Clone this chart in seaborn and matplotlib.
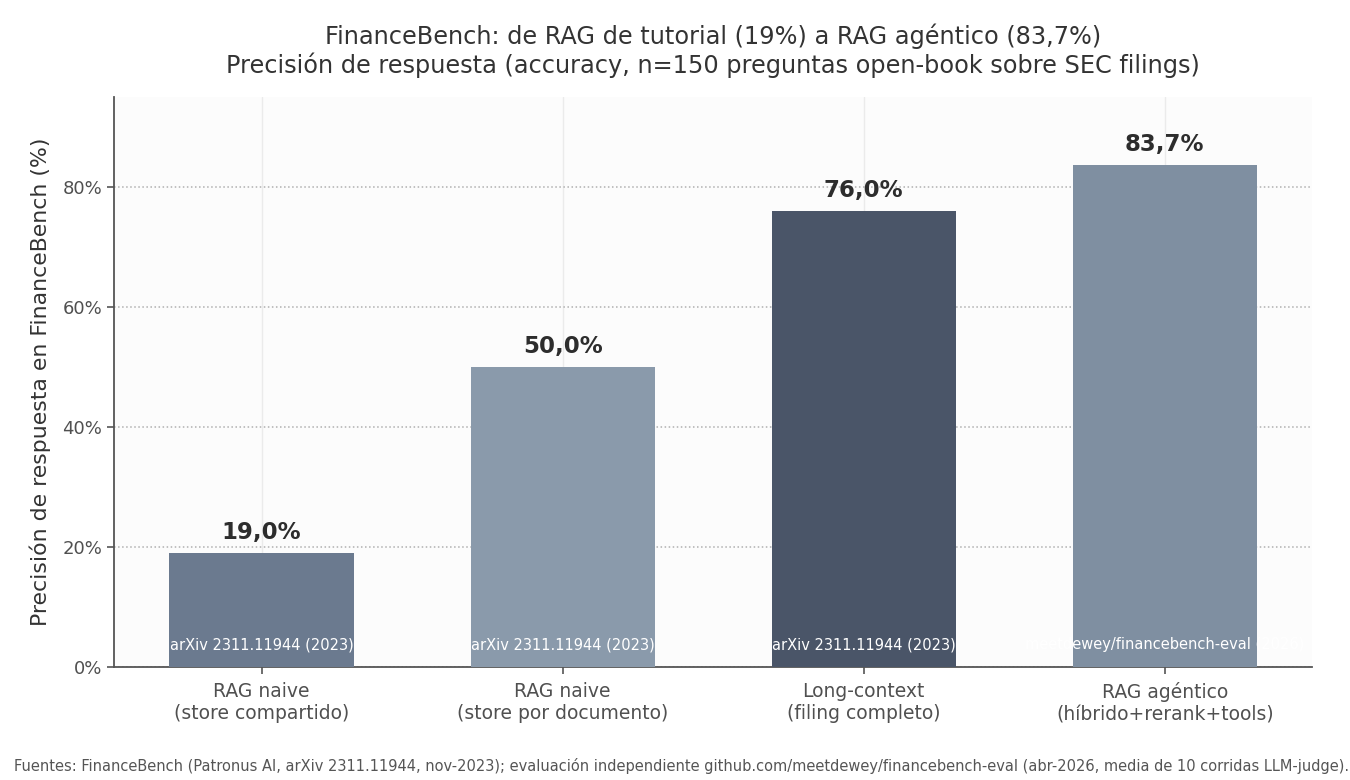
import matplotlib
matplotlib.use("Agg")
import matplotlib.pyplot as plt
import seaborn as sns
import pandas as pd

categories = ["RAG naive\n(store compartido)", "RAG naive\n(store por documento)",
              "Long-context\n(filing completo)", "RAG agéntico\n(híbrido+rerank+tools)"]
values = [19.0, 50.0, 76.0, 83.7]
value_labels = ["19,0%", "50,0%", "76,0%", "83,7%"]
sources = ["arXiv 2311.11944 (2023)", "arXiv 2311.11944 (2023)",
           "arXiv 2311.11944 (2023)", "meetdewey/financebench-eval (2026)"]
colors = ["#6b7a8f", "#8a9aab", "#4a5568", "#7f8fa1"]
yticks = [0, 20, 40, 60, 80]
ytick_labels = ["0%", "20%", "40%", "60%", "80%"]

sns.set_theme(style="ticks")
plt.rcParams["font.family"] = ["DejaVu Sans"]

df = pd.DataFrame({"cat": categories, "val": values})

fig, ax = plt.subplots(figsize=(13.5, 7.8), dpi=100)
fig.subplots_adjust(left=0.0845, right=0.972, top=0.876, bottom=0.145)
ax.set_facecolor("#fcfcfc")

sns.barplot(data=df, x="cat", y="val", hue="cat", palette=colors, legend=False,
            width=0.612, ax=ax, saturation=1, zorder=3, linewidth=0, edgecolor="none")

ax.set_xlim(-0.49, 3.49)
ax.set_ylim(0, 95)
ax.set_yticks(yticks)
ax.set_yticklabels(ytick_labels)
ax.yaxis.grid(True, linestyle=":", color="#b0b0b0", linewidth=1.1, zorder=0)
ax.xaxis.grid(True, linestyle="-", color="#ebebeb", linewidth=1.0, zorder=0)
ax.set_axisbelow(True)

for side in ["top", "right"]:
    ax.spines[side].set_visible(False)
for side in ["left", "bottom"]:
    ax.spines[side].set_color("#555555")
    ax.spines[side].set_linewidth(1.3)
ax.tick_params(axis="y", colors="#555555", labelsize=13, length=5, width=1.2)
ax.tick_params(axis="x", colors="#555555", labelsize=13.5, length=5, width=1.2, pad=6)
for lbl in ax.get_xticklabels() + ax.get_yticklabels():
    lbl.set_color("#505050")

ax.set_xlabel("")
ax.set_ylabel("Precisión de respuesta en FinanceBench (%)", fontsize=15.8, color="#333333", labelpad=8)

bars = ax.patches
for bar, v, lab, src in zip(bars, values, value_labels, sources):
    cx = bar.get_x() + bar.get_width() / 2
    ax.text(cx, v + 1.5, lab, ha="center", va="bottom", fontsize=16.5,
            fontweight="bold", color="#2d2d2d", zorder=5)
    ax.text(cx, 3.7, src, ha="center", va="center", fontsize=10.5, color="white", zorder=5)

ax.set_title("FinanceBench: de RAG de tutorial (19%) a RAG agéntico (83,7%)\n"
             "Precisión de respuesta (accuracy, n=150 preguntas open-book sobre SEC filings)",
             fontsize=17.3, color="#333333", pad=17, linespacing=1.18)

fig.text(0.505, 0.008, "Fuentes: FinanceBench (Patronus AI, arXiv 2311.11944, nov-2023); evaluación independiente "
         "github.com/meetdewey/financebench-eval (abr-2026, media de 10 corridas LLM-judge).",
         ha="center", va="bottom", fontsize=10.5, color="#555555")

fig.savefig("out.png", dpi=100, facecolor="white")
